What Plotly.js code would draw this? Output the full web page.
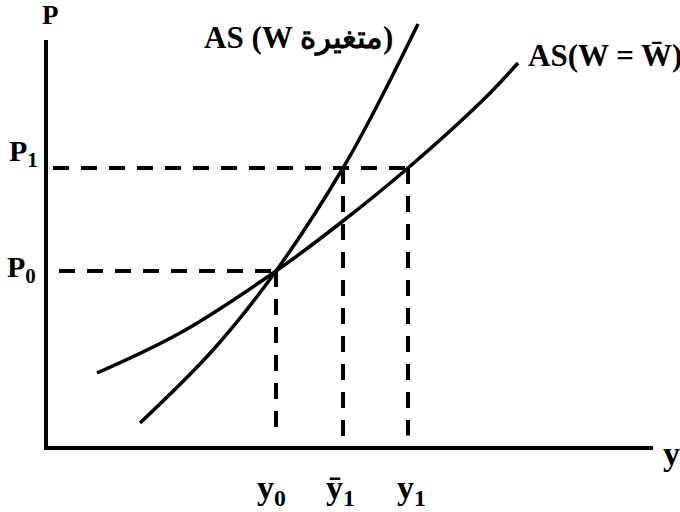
<!DOCTYPE html>
<html>
<head>
<meta charset="utf-8">
<script src="https://cdn.plot.ly/plotly-3.0.1.min.js"></script>
<style>
  html, body { margin: 0; padding: 0; background: #fff; }
  #chart { width: 680px; height: 512px; }
</style>
</head>
<body>
<div id="chart"></div>
<script>
// Output levels on the horizontal axis
const outputLevels = { y0: 4.6, yBar1: 5.94, y1: 7.24 };
// Price levels on the vertical axis
const priceLevels = { P0: 3.54, P1: 5.6 };

// AS curve when the nominal wage varies (steep)
const asVariableX = [1.88, 3.34, 4.6, 5.94, 6.68, 7.44];
const asVariableY = [0.5, 1.96, 3.54, 5.6, 6.96, 8.48];

// AS curve with a fixed nominal wage W = W̄ (flatter)
const asFixedX = [1.02, 2.68, 4.6, 5.94, 7.24, 8.74, 9.44];
const asFixedY = [1.5, 2.3, 3.54, 4.54, 5.6, 6.96, 7.7];

// Axis extents
const xAxisEnd = 12.14;
const yAxisEnd = 8.16;

// Labels
const curveLabelVariable = 'AS (W متغيرة)';
const curveLabelFixed = 'AS(W = W\u0304)';
const xTickLabels = ['y<sub>0</sub>', '\u0233<sub>1</sub>', 'y<sub>1</sub>'];
const yTickLabels = ['P<sub>0</sub>', 'P<sub>1</sub>'];

const serif = '"Liberation Serif", "Noto Sans", serif';
const black = '#000';

const curveLine = { color: black, width: 3.5, shape: 'spline', smoothing: 1 };
const dashLine = { color: black, width: 4, dash: '16px,12px' };
const axisLine = { color: black, width: 4 };

const traces = [
  // axes
  { x: [0, 0], y: [-0.04, yAxisEnd], mode: 'lines', line: axisLine },
  { x: [0, xAxisEnd], y: [0, 0], mode: 'lines', line: axisLine },
  // dashed guides
  { x: [0.14, outputLevels.y1], y: [priceLevels.P1, priceLevels.P1], mode: 'lines', line: dashLine },
  { x: [0.26, outputLevels.y0], y: [priceLevels.P0, priceLevels.P0], mode: 'lines', line: dashLine },
  { x: [outputLevels.y0, outputLevels.y0], y: [priceLevels.P0, 0.3], mode: 'lines', line: dashLine },
  { x: [outputLevels.yBar1, outputLevels.yBar1], y: [priceLevels.P1, 0.05], mode: 'lines', line: dashLine },
  { x: [outputLevels.y1, outputLevels.y1], y: [priceLevels.P1, 0.25], mode: 'lines', line: dashLine },
  // AS curves
  { x: asFixedX, y: asFixedY, mode: 'lines', line: curveLine },
  { x: asVariableX, y: asVariableY, mode: 'lines', line: curveLine }
];

function label(text, x, y, size, xanchor) {
  return {
    text: '<b>' + text + '</b>', x: x, y: y, xref: 'x', yref: 'y',
    showarrow: false, xanchor: xanchor || 'center', yanchor: 'middle',
    font: { family: serif, size: size, color: black }
  };
}

const annotations = [
  label('P', 0.08, 8.66, 27),
  label(yTickLabels[1], -0.12, 5.9, 30, 'right'),
  label(yTickLabels[0], -0.16, 3.58, 30, 'right'),
  label(xTickLabels[0], 4.5, -0.84, 34),
  label(xTickLabels[1], 5.88, -0.84, 34),
  label(xTickLabels[2], 7.3, -0.84, 34),
  label('y', 12.5, -0.1, 34),
  label(curveLabelVariable, 5.05, 8.2, 31),
  label(curveLabelFixed, 9.6, 7.86, 31, 'left')
];

const layout = {
  width: 680, height: 512,
  margin: { l: 0, r: 0, t: 0, b: 0 },
  paper_bgcolor: '#fff', plot_bgcolor: '#fff',
  showlegend: false,
  xaxis: { range: [-0.92, 12.68], visible: false, fixedrange: true },
  yaxis: { range: [-1.28, 8.96], visible: false, fixedrange: true },
  annotations: annotations
};

Plotly.newPlot('chart', traces, layout, { staticPlot: true, displayModeBar: false });
</script>
</body>
</html>
